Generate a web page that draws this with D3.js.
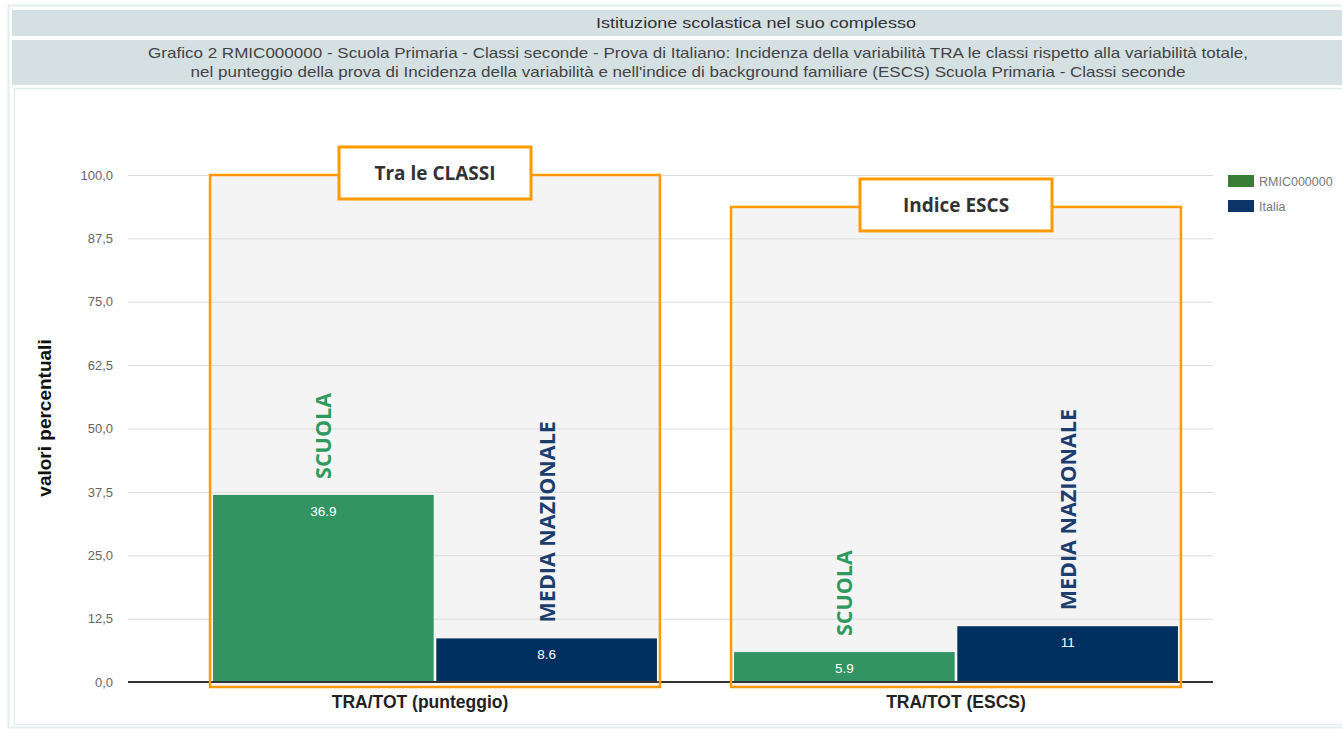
<!DOCTYPE html>
<html><head><meta charset="UTF-8"><title>Grafico 2</title>
<script src="https://cdn.jsdelivr.net/npm/d3@7"></script>
<style>
	body	{ margin:0; background:#fff; font-family:"Liberation Sans",Arial,sans-serif; }
	svg	{ display:block; }
</style>
</head><body>
<svg id="chart" width="1342" height="729"></svg>
<script>
// data
var categories=["TRA/TOT (punteggio)","TRA/TOT (ESCS)"];
var series=["RMIC000000","Italia"];
var scuola=[36.9,5.9];
var italia=[8.6,11];
var valueLabels=[["36.9","8.6"],["5.9","11"]];
var yTicks=[0,12.5,25,37.5,50,62.5,75,87.5,100];
var boxTitles=["Tra le CLASSI","Indice ESCS"];
var boxTops=[100,93.7];
var barNotes=["SCUOLA","MEDIA NAZIONALE"];

var colBar=["#339463","#00305f"], colLeg=["#3a7d34","#0d3466"], colNote=["#2f9a5f","#1c3e6e"];
var orange="#ff9a00";
var labelShift=[-15,0];

var svg=d3.select('#chart');

// header panel
svg.append('rect').attr('x',8.5).attr('y',5.5).attr('width',1340).attr('height',722)
	.attr('fill','none').attr('stroke','#e3edf0').attr('stroke-width',2);
svg.append('rect').attr('x',12).attr('y',10).attr('width',1335).attr('height',26).attr('fill','#d5e0e3');
svg.append('rect').attr('x',12).attr('y',40).attr('width',1335).attr('height',45).attr('fill','#d5e0e3');
svg.append('rect').attr('x',14.5).attr('y',88.5).attr('width',1335).attr('height',636)
	.attr('fill','#fff').attr('stroke','#e3edf0').attr('stroke-width',1.5);
function headText(tx,cx,cy,len,col){
	svg.append('text').attr('x',cx).attr('y',cy).attr('text-anchor','middle')
		.attr('font-size',15).attr('fill',col).attr('textLength',len).attr('lengthAdjust','spacingAndGlyphs').text(tx);
}
headText('Istituzione scolastica nel suo complesso',756,28,320,'#333');
headText('Grafico 2 RMIC000000 - Scuola Primaria - Classi seconde - Prova di Italiano: Incidenza della variabilità TRA le classi rispetto alla variabilità totale,',698,58,1100,'#444');
headText("nel punteggio della prova di Incidenza della variabilità e nell'indice di background familiare (ESCS) Scuola Primaria - Classi seconde",688,77,995,'#444');

// scales
var y=d3.scaleLinear().domain([0,100]).range([682,175]);
var x=d3.scaleBand().domain(categories).range([174.5,1216.5]).paddingInner(0.148).paddingOuter(0.074);
var xs=d3.scaleBand().domain(series).range([0,x.bandwidth()]).paddingInner(0.012);
var gridX0=128, gridX1=1213;

// grey annotation areas
var g=svg.append('g');
categories.forEach(function(c,i){
	g.append('rect').attr('x',x(c)-3).attr('y',y(boxTops[i]))
		.attr('width',x.bandwidth()+6).attr('height',687-y(boxTops[i])).attr('fill','#f4f4f4');
});

// gridlines + tick labels
var yAxis=d3.axisLeft(y).tickValues(yTicks).tickSize(-(gridX1-gridX0)).tickPadding(15)
	.tickFormat(function(d){return d3.format('.1f')(d).replace('.',',');});
var ga=svg.append('g').attr('transform','translate('+gridX0+',0)').call(yAxis);
ga.select('.domain').remove();
ga.selectAll('line').attr('stroke','#dcdcdc');
ga.selectAll('text').attr('font-size',13).attr('fill','#666').attr('font-family','"Liberation Sans",Arial,sans-serif');

// bars
var bars=svg.append('g');
categories.forEach(function(c,i){
	[scuola[i],italia[i]].forEach(function(v,j){
		var bx=x(c)+xs(series[j]);
		bars.append('rect').attr('x',bx).attr('y',y(v)).attr('width',xs.bandwidth())
			.attr('height',y(0)-y(v)).attr('fill',colBar[j]);
		bars.append('text').attr('x',bx+xs.bandwidth()/2).attr('y',y(v)+21)
			.attr('text-anchor','middle').attr('font-size',13.5).attr('fill','#fff').text(valueLabels[i][j]);
		bars.append('text').attr('transform','translate('+(bx+xs.bandwidth()/2+8)+','+(y(v)-16)+') rotate(-90)')
			.attr('font-family','"Open Sans","Noto Sans",sans-serif').attr('font-weight','bold')
			.attr('font-size',21.5).attr('fill',colNote[j]).text(barNotes[j]);
	});
});

// axis baseline
svg.append('line').attr('x1',gridX0).attr('x2',gridX1).attr('y1',y(0)).attr('y2',y(0))
	.attr('stroke','#333').attr('stroke-width',2);

// orange frames and titles
categories.forEach(function(c,i){
	var x0=x(c)-3, x1=x(c)+x.bandwidth()+3, t=y(boxTops[i]);
	svg.append('rect').attr('x',x0).attr('y',t).attr('width',x1-x0).attr('height',687-t)
		.attr('fill','none').attr('stroke',orange).attr('stroke-width',2.5);
	var cx=(x0+x1)/2;
	svg.append('rect').attr('x',cx-96).attr('y',t-28).attr('width',192).attr('height',52)
		.attr('fill','#fff').attr('stroke',orange).attr('stroke-width',3);
	svg.append('text').attr('x',cx).attr('y',t+5).attr('text-anchor','middle')
		.attr('font-family','"Open Sans","Noto Sans",sans-serif').attr('font-weight','bold')
		.attr('font-size',19).attr('fill','#333').text(boxTitles[i]);
	svg.append('text').attr('x',x(c)+x.bandwidth()/2+labelShift[i]).attr('y',708).attr('text-anchor','middle')
		.attr('font-weight','bold').attr('font-size',17.5).attr('fill','#222').text(c);
});

// y title
svg.append('text').attr('transform','translate(51,418) rotate(-90)').attr('text-anchor','middle')
	.attr('font-weight','bold').attr('font-size',19).attr('fill','#111').text('valori percentuali');

// legend
var lg=svg.append('g').attr('transform','translate(1228,175)');
series.forEach(function(s,j){
	lg.append('rect').attr('x',0).attr('y',j*25).attr('width',26).attr('height',12).attr('fill',colLeg[j]);
	lg.append('text').attr('x',31).attr('y',j*25+10.5).attr('font-size',12.5).attr('fill','#777').text(s);
});
</script>
</body></html>
